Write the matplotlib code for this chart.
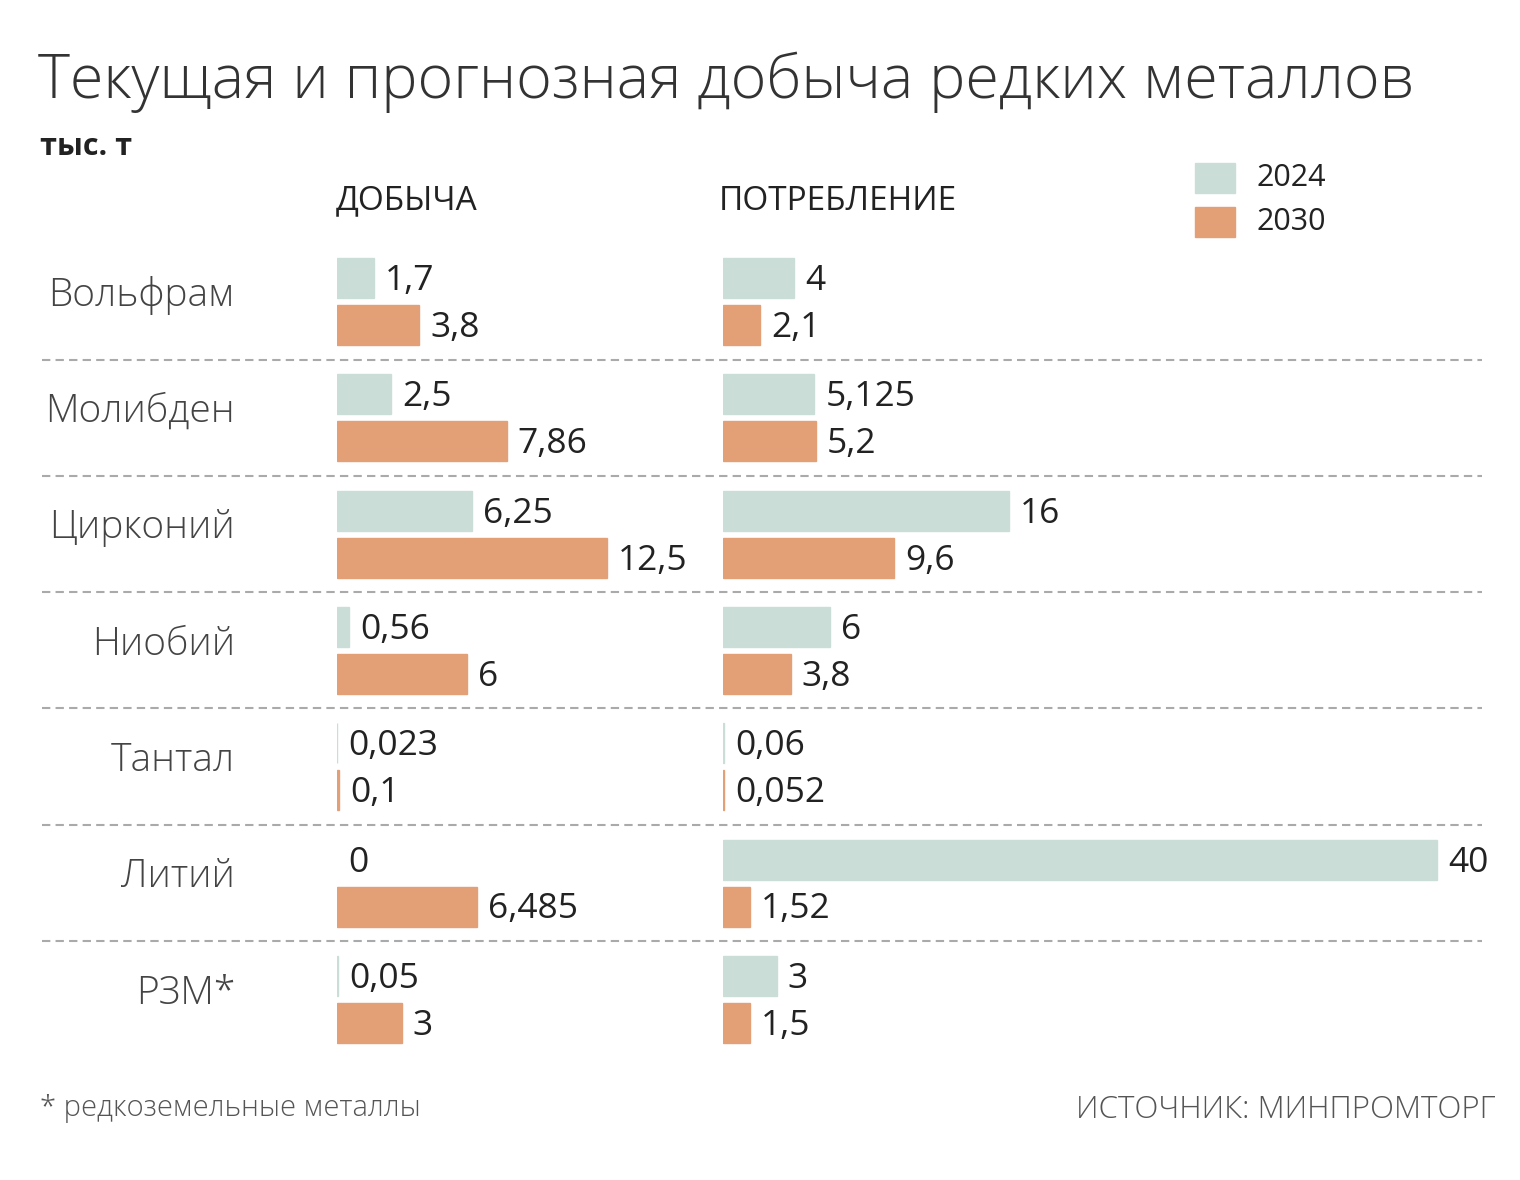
import matplotlib
matplotlib.use("Agg")
import matplotlib.pyplot as plt
from matplotlib.lines import Line2D
from matplotlib.patches import Rectangle
from matplotlib import font_manager

# ---------------- data ----------------
metals = ["Вольфрам", "Молибден", "Цирконий", "Ниобий", "Тантал", "Литий", "РЗМ*"]
mining_2024 = [1.7, 2.5, 6.25, 0.56, 0.023, 0.0, 0.05]
mining_2030 = [3.8, 7.86, 12.5, 6.0, 0.1, 6.485, 3.0]
cons_2024 = [4.0, 5.125, 16.0, 6.0, 0.06, 40.0, 3.0]
cons_2030 = [2.1, 5.2, 9.6, 3.8, 0.052, 1.52, 1.5]
mining_2024_lbl = ["1,7", "2,5", "6,25", "0,56", "0,023", "0", "0,05"]
mining_2030_lbl = ["3,8", "7,86", "12,5", "6", "0,1", "6,485", "3"]
cons_2024_lbl = ["4", "5,125", "16", "6", "0,06", "40", "3"]
cons_2030_lbl = ["2,1", "5,2", "9,6", "3,8", "0,052", "1,52", "1,5"]
years = ["2024", "2030"]

# ---------------- style ----------------
C24 = "#CBDDD7"
C30 = "#E3A077"
TXT = "#333333"
GREY = "#555555"

names = {f.name for f in font_manager.fontManager.ttflist}
FONT = "Open Sans" if "Open Sans" in names else "DejaVu Sans"

W, H = 1520, 1180
fig = plt.figure(figsize=(W / 100, H / 100), dpi=100)
fig.patch.set_facecolor("white")

def fx(px):
    return px / W

def fy(py):
    return 1 - py / H

# layout (pixels)
row0 = 278.0
pitch = 116.3
off = 47.0
bar_h = 40.0

def make_ax(left_px, width_px, px_per_unit):
    ax = fig.add_axes([fx(left_px), 0, width_px / W, 1])
    ax.set_xlim(0, width_px / px_per_unit)
    ax.set_ylim(H, 0)
    ax.axis("off")
    return ax, px_per_unit

axL, sL = make_ax(337, 363, 21.6)
axR, sR = make_ax(723, 777, 17.85)

def draw(ax, scale, v24, v30, l24, l30):
    for i in range(len(metals)):
        for v, lbl, col, dy in ((v24[i], l24[i], C24, 0), (v30[i], l30[i], C30, off)):
            yc = row0 + i * pitch + dy
            lw = 1.0 if v > 0 else 0
            ax.barh(yc, v, height=bar_h, color=col, edgecolor=col, linewidth=lw, align="center")
            ax.text(v + 11 / scale, yc + 3, lbl, ha="left", va="center", fontsize=25.5,
                    color="#222222", family=FONT)

draw(axL, sL, mining_2024, mining_2030, mining_2024_lbl, mining_2030_lbl)
draw(axR, sR, cons_2024, cons_2030, cons_2024_lbl, cons_2030_lbl)

# category labels
for i, m in enumerate(metals):
    yc = row0 + i * pitch + off / 2 - 6
    fig.text(fx(235), fy(yc), m, ha="right", va="center", fontsize=28,
             color="#444444", family=FONT, fontweight="light")

# dashed separators
for i in range(len(metals) - 1):
    ys = row0 + i * pitch + off / 2 + 58
    fig.add_artist(Line2D([fx(42), fx(1482)], [fy(ys), fy(ys)], color="#AAAAAA",
                          lw=1.5, linestyle=(0, (4, 2.5)), transform=fig.transFigure))

# title and subtitles
fig.text(fx(38), fy(82), "Текущая и прогнозная добыча редких металлов", ha="left",
         va="center", fontsize=44, color=TXT, family=FONT, fontweight="light")
fig.text(fx(40), fy(147), "тыс. т", ha="left", va="center", fontsize=22,
         color="#222222", family=FONT, fontweight="bold")
fig.text(fx(336), fy(201), "ДОБЫЧА", ha="left", va="center", fontsize=24,
         color="#222222", family=FONT)
fig.text(fx(719), fy(201), "ПОТРЕБЛЕНИЕ", ha="left", va="center", fontsize=24,
         color="#222222", family=FONT)

# legend
for k, (yr, col) in enumerate(zip(years, [C24, C30])):
    yc = 178 + k * 44
    fig.add_artist(Rectangle((fx(1195), fy(yc + 15)), 40 / W, 30 / H, color=col,
                             transform=fig.transFigure))
    fig.text(fx(1256), fy(yc), yr, ha="left", va="center", fontsize=22,
             color="#222222", family=FONT)

# footer
fig.text(fx(40), fy(1108), "* редкоземельные металлы", ha="left", va="center",
         fontsize=21, color=GREY, family=FONT, fontweight="light")
fig.text(fx(1495), fy(1110), "ИСТОЧНИК: МИНПРОМТОРГ", ha="right", va="center",
         fontsize=22.5, color=GREY, family=FONT, fontweight="light")

fig.savefig("out.png", dpi=100, facecolor="white")
